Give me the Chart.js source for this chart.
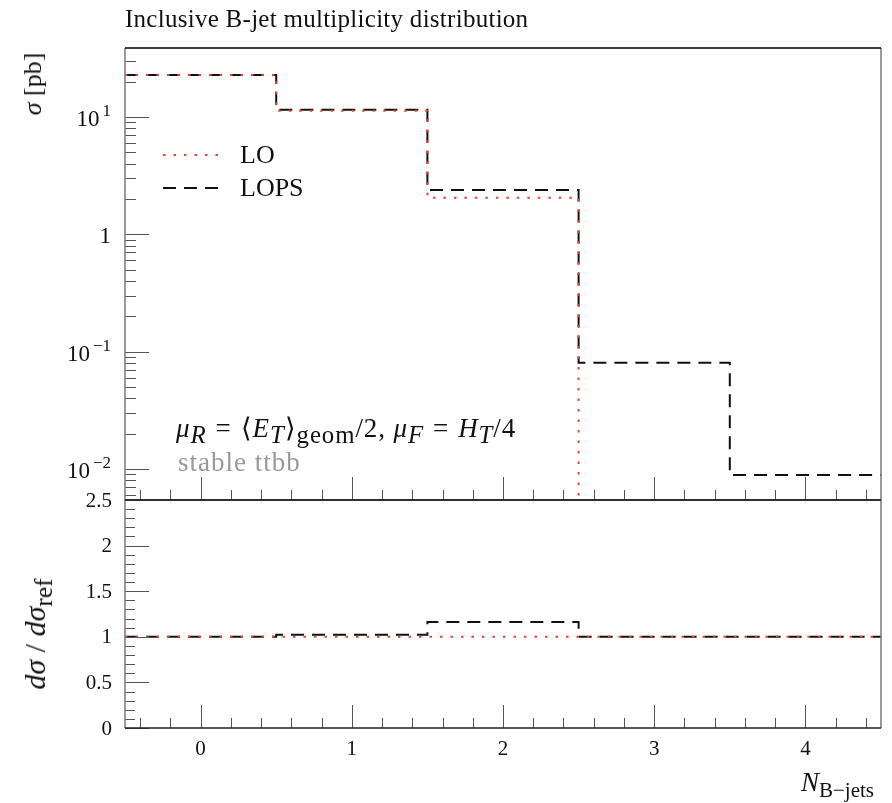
<!DOCTYPE html>
<html>
<head>
<meta charset="utf-8">
<script src="https://cdn.jsdelivr.net/npm/chart.js@4.4.1/dist/chart.umd.min.js"></script>
<style>
  body { margin: 0; background: #fff; }
  #wrap { position: relative; width: 892px; height: 803px; font-family: "Liberation Serif", serif; color: #111; }
  canvas { position: absolute; left: 0; }
  .t { position: absolute; white-space: nowrap; line-height: 1; }
  .rot { transform: translate(-50%, -50%) rotate(-90deg); }
  i { font-style: italic; }
  sub, sup { font-size: 75%; line-height: 0; }
  .eq { margin: 0 9px; }
  .ann sub { font-size: 92%; }
</style>
</head>
<body>
<div id="wrap">
  <canvas id="main" width="892" height="503" style="top:0"></canvas>
  <canvas id="ratio" width="892" height="318" style="top:485px"></canvas>

  <div class="t" style="left:125px; top:6px; font-size:25px; letter-spacing:0.27px;">Inclusive B-jet multiplicity distribution</div>
  <div class="t rot" style="left:33px; top:84px; font-size:26px;"><i>σ</i> [pb]</div>
  <div class="t rot" style="left:35px; top:634px; font-size:30px;"><i>dσ</i> / <i>dσ</i><sub style="font-size:85%">ref</sub></div>
  <div class="t" style="left:801px; top:769px; font-size:27px;"><i>N</i><sub style="font-size:21px">B−jets</sub></div>
  <div class="t ann" style="left:176px; top:415px; font-size:27px; letter-spacing:0.9px;"><i>μ<sub>R</sub></i><span class="eq">=</span>⟨<i>E<sub>T</sub></i>⟩<sub>geom</sub>/2, <i>μ<sub>F</sub></i><span class="eq">=</span><i>H<sub>T</sub></i>/4</div>
  <div class="t" style="left:178px; top:449px; font-size:27px; letter-spacing:1px; color:#999;">stable ttbb</div>
</div>

<script>
// bins: N_B-jets = 0..4, edges at half integers
const binEdges = [-0.5, 0.5, 1.5, 2.5, 3.5, 4.5];
const xTickLabels = ["0", "1", "2", "3", "4"];

// cross sections in pb
const loValues = [22.7, 11.25, 2.05, 0, 0];
const lopsValues = [22.7, 11.5, 2.38, 0.0805, 0.0089];

const yMin = 0.00545, yMax = 38.6;
const ratioMin = 0, ratioMax = 2.5;
const ratioTickLabels = ["0", "0.5", "1", "1.5", "2", "2.5"];

const RED = "#f0402a";
const DARK = "#111";
const TICK = "#555";

// step points from bin values (zero mapped to the axis floor)
function steps(values, floor) {
  const pts = values.map((v, i) => ({ x: binEdges[i], y: v > 0 ? v : floor }));
  pts.push({ x: binEdges[binEdges.length - 1], y: pts[pts.length - 1].y });
  return pts;
}

function ratio(values, ref) {
  return values.map((v, i) => ref[i] > 0 ? v / ref[i] : 1);
}

const hideFloor = floor => ({
  borderColor: ctx => (ctx.p0.parsed.y <= floor && ctx.p1.parsed.y <= floor) ? "rgba(0,0,0,0)" : undefined
});

function lineDs(label, data, color, dash, floor) {
  return {
    label, data,
    borderColor: color,
    borderWidth: 2,
    borderDash: dash,
    borderCapStyle: "butt",
    stepped: "before",
    pointRadius: 0,
    fill: false,
    segment: floor !== undefined ? hideFloor(floor) : undefined
  };
}

function line(ctx, x1, y1, x2, y2) {
  ctx.beginPath(); ctx.moveTo(x1, y1); ctx.lineTo(x2, y2); ctx.stroke();
}

// x ticks pointing up from the bottom edge
function drawXTicks(ctx, xs, yPix) {
  ctx.strokeStyle = TICK; ctx.lineWidth = 1;
  for (let k = -2; k <= 22; k++) {
    const v = k * 0.2;
    const major = k % 5 === 0;
    const px = Math.round(xs.getPixelForValue(v)) + 0.5;
    line(ctx, px, yPix, px, yPix - (major ? 23 : 10));
  }
}

function drawFrame(ctx, a, topColor, bottomColor) {
  ctx.lineWidth = 1.5;
  ctx.strokeStyle = "#777";
  line(ctx, a.left, a.top, a.left, a.bottom);
  line(ctx, a.right, a.top, a.right, a.bottom);
  ctx.strokeStyle = topColor;
  line(ctx, a.left, a.top, a.right, a.top);
  ctx.strokeStyle = bottomColor;
  line(ctx, a.left, a.bottom, a.right, a.bottom);
}

const mainAxes = {
  id: "mainAxes",
  afterDraw(chart) {
    const { ctx, chartArea: a, scales } = chart;
    const ys = scales.y, xs = scales.x;
    ctx.save();
    // log y ticks
    ctx.strokeStyle = TICK; ctx.lineWidth = 1;
    for (let d = -3; d <= 1; d++) {
      for (let m = 1; m <= 9; m++) {
        const v = m * Math.pow(10, d);
        if (v < yMin || v > yMax) continue;
        const py = Math.round(ys.getPixelForValue(v)) + 0.5;
        line(ctx, a.left, py, a.left + (m === 1 ? 24 : 11), py);
      }
    }
    // decade labels
    ctx.fillStyle = DARK;
    ctx.textBaseline = "alphabetic";
    [[10, "10", "1"], [1, "1", ""], [0.1, "10", "−1"], [0.01, "10", "−2"]].forEach(([v, base, exp]) => {
      const py = ys.getPixelForValue(v);
      const right = 111;
      ctx.font = "17px 'Liberation Serif'";
      const ew = exp ? ctx.measureText(exp).width + 3 : 0;
      if (exp) { ctx.textAlign = "right"; ctx.fillText(exp, right, py - 1); }
      ctx.font = "23px 'Liberation Serif'";
      ctx.textAlign = "right";
      ctx.fillText(base, right - ew, py + 9);
    });
    drawXTicks(ctx, xs, a.bottom);
    drawFrame(ctx, a, "#000", "#222");

    // legend
    const items = [[0, 155], [1, 188]];
    items.forEach(([i, y]) => {
      const ds = chart.data.datasets[i];
      ctx.strokeStyle = ds.borderColor;
      ctx.lineWidth = 2;
      ctx.setLineDash(ds.borderDash);
      line(ctx, 163, y, 224, y);
      ctx.setLineDash([]);
      ctx.fillStyle = DARK;
      ctx.font = "26px 'Liberation Serif'";
      ctx.textAlign = "left";
      ctx.textBaseline = "middle";
      ctx.fillText(ds.label, 240, y + 1);
    });
    ctx.restore();
  }
};

const ratioAxes = {
  id: "ratioAxes",
  afterDraw(chart) {
    const { ctx, chartArea: a, scales } = chart;
    const ys = scales.y, xs = scales.x;
    ctx.save();
    ctx.strokeStyle = TICK; ctx.lineWidth = 1;
    for (let k = 0; k <= 25; k++) {
      const py = Math.round(ys.getPixelForValue(k * 0.1)) + 0.5;
      line(ctx, a.left, py, a.left + (k % 5 === 0 ? 24 : 10), py);
    }
    ctx.fillStyle = DARK;
    ctx.font = "21px 'Liberation Serif'";
    ctx.textAlign = "right";
    ctx.textBaseline = "middle";
    ratioTickLabels.forEach(s => ctx.fillText(s, 112, ys.getPixelForValue(parseFloat(s)) + 1));
    ctx.textAlign = "center";
    xTickLabels.forEach(s => ctx.fillText(s, xs.getPixelForValue(parseFloat(s)), a.bottom + 21));
    drawXTicks(ctx, xs, a.bottom);
    drawFrame(ctx, a, "#222", "#222");
    ctx.restore();
  }
};

const commonOpts = {
  responsive: false,
  animation: false,
  plugins: { legend: { display: false }, tooltip: { enabled: false } },
  elements: { line: { tension: 0 } }
};

new Chart(document.getElementById("main"), {
  type: "line",
  data: {
    datasets: [
      lineDs("LO", steps(loValues, yMin), RED, [2.5, 8], yMin),
      lineDs("LOPS", steps(lopsValues, yMin), DARK, [13, 8], yMin)
    ]
  },
  options: {
    ...commonOpts,
    layout: { padding: { left: 125, right: 11, top: 48, bottom: 3 } },
    scales: {
      x: { type: "linear", min: -0.5, max: 4.5, display: false },
      y: { type: "logarithmic", min: yMin, max: yMax, display: false }
    }
  },
  plugins: [mainAxes]
});

new Chart(document.getElementById("ratio"), {
  type: "line",
  data: {
    datasets: [
      lineDs("LO", steps(ratio(loValues, loValues)), RED, [2.5, 8]),
      lineDs("LOPS", steps(ratio(lopsValues, loValues)), DARK, [13, 8])
    ]
  },
  options: {
    ...commonOpts,
    layout: { padding: { left: 125, right: 11, top: 15, bottom: 75 } },
    scales: {
      x: { type: "linear", min: -0.5, max: 4.5, display: false },
      y: { type: "linear", min: ratioMin, max: ratioMax, display: false }
    }
  },
  plugins: [ratioAxes]
});
</script>
</body>
</html>
